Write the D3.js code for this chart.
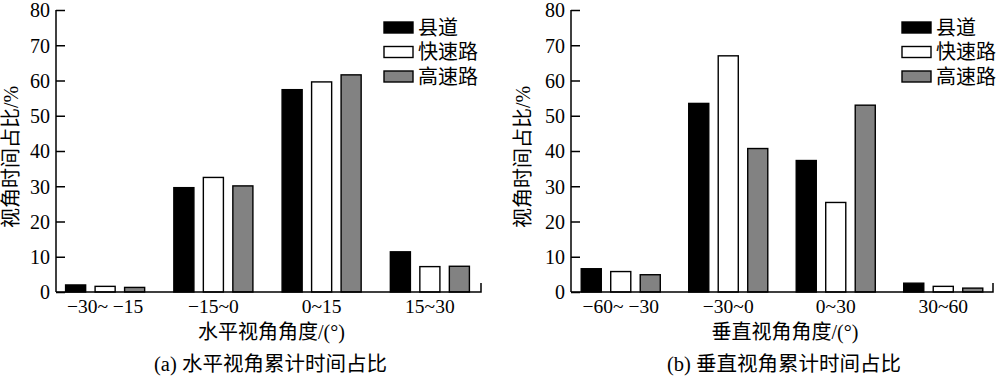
<!DOCTYPE html>
<html>
<head>
<meta charset="utf-8">
<script src="https://cdn.jsdelivr.net/npm/d3@7"></script>
<style>
  body { margin: 0; background: #fff; }
  svg text { font-family: "Liberation Serif", "Noto Sans CJK SC", serif; fill: #000; }
</style>
</head>
<body>
<svg id="chart" width="1000" height="381"></svg>
<script>
// Road types (series) and their fills
const SERIES = ['县道', '快速路', '高速路'];
const FILLS = ['#000000', '#ffffff', '#828282'];

// (a) horizontal viewing angle
const H_CATS = ['\u221230~ \u221215', '\u221215~0', '0~15', '15~30'];
const H_COUNTY = [2.0, 29.6, 57.4, 11.4];
const H_EXPRESS = [1.6, 32.5, 59.6, 7.2];
const H_HIGHWAY = [1.3, 30.1, 61.6, 7.3];

// (b) vertical viewing angle
const V_CATS = ['\u221260~ \u221230', '\u221230~0', '0~30', '30~60'];
const V_COUNTY = [6.6, 53.5, 37.3, 2.5];
const V_EXPRESS = [5.8, 67.0, 25.4, 1.6];
const V_HIGHWAY = [4.9, 40.7, 53.0, 1.1];

const Y_TICKS = [0, 10, 20, 30, 40, 50, 60, 70, 80];

const svg = d3.select('#chart');

function panel(opts) {
  const { cats, values, axisX0, axisX1, bandRange, yLabelX, xTitle, caption, legendX } = opts;
  const g = svg.append('g');
  const y0 = 292, yTop = 10;

  const y = d3.scaleLinear().domain([0, 80]).range([y0, yTop]);
  const x0 = d3.scaleBand().domain(cats).range(bandRange);
  const x1 = d3.scaleBand().domain(SERIES).range([-44.25, 44.25]);
  const barW = x1.bandwidth() * 0.68;

  // bars
  cats.forEach((c, i) => {
    SERIES.forEach((s, j) => {
      const v = values[j][i];
      const cx = x0(c) + x0.bandwidth() / 2 + x1(s) + x1.bandwidth() / 2;
      g.append('rect')
        .attr('x', cx - barW / 2)
        .attr('y', y(v))
        .attr('width', barW)
        .attr('height', y0 - y(v))
        .attr('fill', FILLS[j])
        .attr('stroke', '#000')
        .attr('stroke-width', 1.4);
    });
  });

  // y axis with inward ticks
  const yAxis = d3.axisRight(y).tickValues(Y_TICKS).tickSize(9).tickPadding(0);
  const ya = g.append('g').attr('transform', `translate(${axisX0},0)`).call(yAxis);
  ya.select('.domain').remove();
  ya.selectAll('line').attr('stroke', '#000').attr('stroke-width', 1.5);
  ya.selectAll('text')
    .attr('x', -6).attr('text-anchor', 'end').attr('dy', '0.34em')
    .style('font-size', '20px');
  g.append('line').attr('x1', axisX0).attr('x2', axisX0).attr('y1', yTop).attr('y2', y0)
    .attr('stroke', '#000').attr('stroke-width', 1.5);

  // x axis line with end tick
  g.append('path')
    .attr('d', `M${axisX0},${y0}H${axisX1}V${y0 - 9}`)
    .attr('fill', 'none').attr('stroke', '#000').attr('stroke-width', 1.5);

  // category labels
  g.selectAll('.cat').data(cats).join('text')
    .attr('x', d => x0(d) + x0.bandwidth() / 2)
    .attr('y', 313)
    .attr('text-anchor', 'middle')
    .style('font-size', '19.5px')
    .text(d => d);

  const mid = (axisX0 + axisX1) / 2;
  g.append('text').attr('x', mid + 3).attr('y', 339).attr('text-anchor', 'middle')
    .style('font-size', '20px').text(xTitle);
  g.append('text').attr('x', mid + 2).attr('y', 371).attr('text-anchor', 'middle')
    .style('font-size', '20.5px').text(caption);

  g.append('text')
    .attr('transform', `translate(${yLabelX},157) rotate(-90)`)
    .attr('text-anchor', 'middle').attr('dy', '0.35em')
    .style('font-size', '20px')
    .text('视角时间占比/%');

  // legend
  SERIES.forEach((s, j) => {
    const cy = 27.5 + j * 24.5;
    g.append('rect').attr('x', legendX).attr('y', cy - 5.5).attr('width', 29).attr('height', 11)
      .attr('fill', FILLS[j]).attr('stroke', '#000').attr('stroke-width', 1.4);
    g.append('text').attr('x', legendX + 34).attr('y', cy).attr('dy', '0.36em')
      .style('font-size', '20px').text(s);
  });
}

panel({
  cats: H_CATS,
  values: [H_COUNTY, H_EXPRESS, H_HIGHWAY],
  axisX0: 56, axisX1: 481, bandRange: [51, 484],
  yLabelX: 11, xTitle: '水平视角角度/(°)', caption: '(a) 水平视角累计时间占比',
  legendX: 384
});

panel({
  cats: V_CATS,
  values: [V_COUNTY, V_EXPRESS, V_HIGHWAY],
  axisX0: 571, axisX1: 993, bandRange: [567, 997],
  yLabelX: 523, xTitle: '垂直视角角度/(°)', caption: '(b) 垂直视角累计时间占比',
  legendX: 902
});
</script>
</body>
</html>
